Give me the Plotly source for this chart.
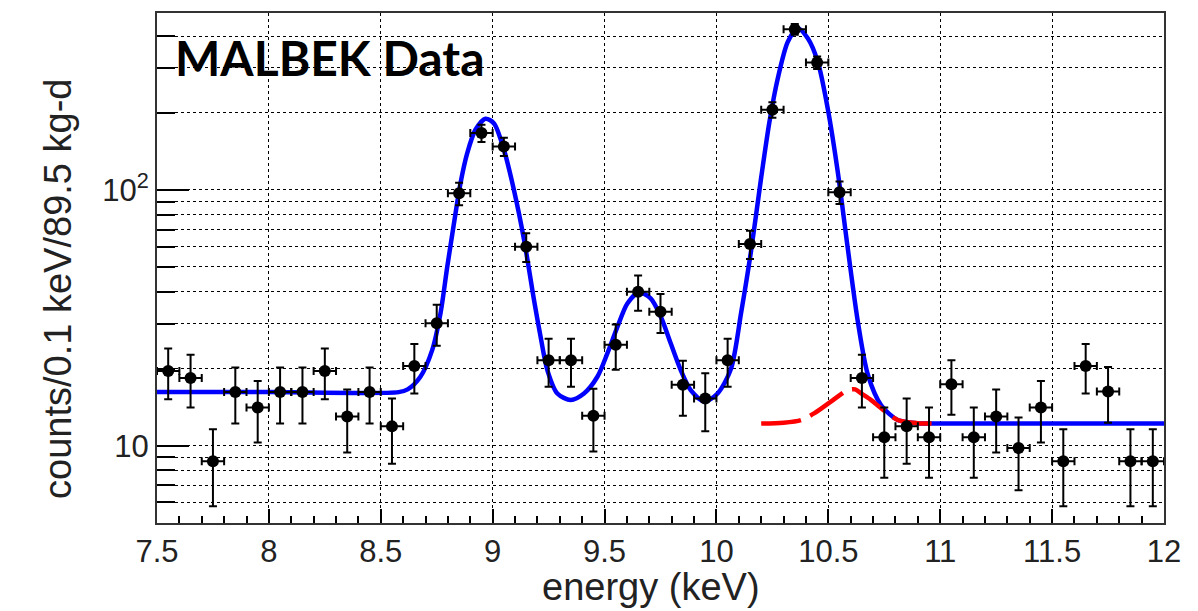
import plotly.graph_objects as go

# ---- data ----
energy = [7.55, 7.65, 7.75, 7.85, 7.95, 8.05, 8.15, 8.25, 8.35, 8.45,
          8.55, 8.65, 8.75, 8.85, 8.95, 9.05, 9.15, 9.25, 9.35, 9.45,
          9.55, 9.65, 9.75, 9.85, 9.95, 10.05, 10.15, 10.25, 10.35, 10.45,
          10.55, 10.65, 10.75, 10.85, 10.95, 11.05, 11.15, 11.25, 11.35, 11.45,
          11.55, 11.65, 11.75, 11.85, 11.95]
counts = [19.6, 18.4, 8.7, 16.2, 14.1, 16.2, 16.2, 19.6, 13.0, 16.2,
          11.9, 20.5, 30.1, 97, 167, 148, 60, 21.6, 21.6, 13.1,
          24.8, 40, 33.4, 17.3, 15.3, 21.6, 61.5, 206, 425, 315,
          98, 18.4, 10.8, 11.9, 10.8, 17.4, 10.8, 13.0, 9.8, 14.1,
          8.7, 20.5, 16.3, 8.7, 8.7]
count_err = [4.4, 4.3, 2.9, 4.0, 3.8, 4.0, 4.0, 4.4, 3.6, 4.0,
             3.4, 4.5, 5.5, 9.8, 12.9, 12.2, 7.7, 4.6, 4.6, 3.6,
             5.0, 6.3, 5.8, 4.2, 3.9, 4.6, 7.8, 14.4, 20.6, 17.7,
             9.9, 4.3, 3.3, 3.4, 3.3, 4.2, 3.3, 3.6, 3.1, 3.8,
             2.9, 4.5, 4.0, 2.9, 2.9]
bin_half_width = 0.05

fit_x = [7.5, 8.0, 8.58, 8.62, 8.677, 8.73, 8.767, 8.797, 8.827, 8.856,
         8.886, 8.923, 8.968, 9.006, 9.051, 9.095, 9.14, 9.185, 9.214, 9.244,
         9.289, 9.349, 9.408, 9.468, 9.513, 9.558, 9.602, 9.654, 9.706, 9.751,
         9.796, 9.84, 9.885, 9.945, 10.005, 10.065, 10.11, 10.155, 10.2, 10.237,
         10.274, 10.319, 10.363, 10.408, 10.453, 10.497, 10.542, 10.587, 10.632, 10.677,
         10.736, 10.81, 10.9, 11.0, 12.0]
fit_y = [16.2, 16.2, 16.2, 16.6, 18.6, 23.7, 33, 50, 74, 106,
         139, 172, 190, 182, 143, 100, 64, 37, 26.7, 19.8,
         16.0, 15.1, 16.0, 18.6, 23, 29.2, 36, 39.7, 37.7, 32,
         25.1, 19.8, 16.5, 14.9, 16.0, 20, 33, 58, 112, 185,
         273, 380, 429, 392, 317, 209, 118, 59, 30.5, 18.9,
         14.4, 12.6, 12.25, 12.2, 12.2]

peak_x = [10.2, 10.3, 10.378, 10.438, 10.513, 10.587, 10.62, 10.647, 10.69, 10.736,
          10.81, 10.9, 11.0]
peak_y = [12.2, 12.3, 12.6, 13.4, 14.9, 16.5, 16.6, 16.0, 15.1, 14.0,
          12.6, 12.25, 12.2]

y_major = [10, 100]
y_major_text = ["10", "10<sup>2</sup>"]
y_minor = [6, 7, 8, 9, 20, 30, 40, 50, 60, 70, 80, 90, 200, 300, 400]
x_ticks = [7.5, 8, 8.5, 9, 9.5, 10, 10.5, 11, 11.5, 12]
x_tick_text = ["7.5", "8", "8.5", "9", "9.5", "10", "10.5", "11", "11.5", "12"]

fig = go.Figure()

fig.add_trace(go.Scatter(
    x=fit_x, y=fit_y, mode="lines",
    line=dict(color="#0000ff", width=4.5, shape="spline", smoothing=0.8),
    showlegend=False, hoverinfo="skip"))

fig.add_trace(go.Scatter(
    x=peak_x, y=peak_y, mode="lines",
    line=dict(color="#ff0000", width=4.5, dash="40px,10px", shape="spline", smoothing=0.8),
    showlegend=False, hoverinfo="skip"))

fig.add_trace(go.Scatter(
    x=energy, y=counts, mode="markers",
    marker=dict(color="black", size=12),
    error_y=dict(type="data", array=count_err, color="black", thickness=2, width=4),
    error_x=dict(type="constant", value=bin_half_width, color="black", thickness=2, width=4),
    showlegend=False))

fig.add_annotation(
    text="<b>MALBEK Data</b>", xref="paper", yref="paper",
    x=0.016, y=0.912, xanchor="left", yanchor="middle", showarrow=False,
    font=dict(family="Lato", size=48, color="black"))

axis_font = dict(family="Liberation Sans, Arial, sans-serif", size=31, color="#222222")
title_font = dict(family="Liberation Sans, Arial, sans-serif", size=38, color="#222222")

fig.add_annotation(
    text="energy (keV)", xref="paper", yref="paper",
    x=0.4906, y=-0.1255, xanchor="center", yanchor="middle", showarrow=False,
    font=title_font)

fig.add_annotation(
    text="counts/0.1 keV/89.5 kg-d", xref="paper", yref="paper", textangle=-90,
    x=-0.0983, y=0.459, xanchor="center", yanchor="middle", showarrow=False,
    font=title_font)

fig.update_xaxes(
    range=[7.5, 12], tickmode="array", tickvals=x_ticks, ticktext=x_tick_text,
    ticks="inside", ticklen=14, tickwidth=1.5, tickcolor="black",
    minor=dict(dtick=0.1, ticks="inside", ticklen=7, tickcolor="black", showgrid=False),
    showgrid=True, gridcolor="black", griddash="dot", gridwidth=1,
    showline=True, linecolor="#333333", linewidth=2, mirror=True,
    zeroline=False, tickfont=axis_font)

fig.update_yaxes(
    type="log", range=[0.6977, 2.692], tickmode="array",
    tickvals=y_major, ticktext=y_major_text,
    ticks="inside", ticklen=32, tickwidth=1.5, tickcolor="black",
    minor=dict(tickmode="array", tickvals=y_minor, ticks="inside", ticklen=18,
               tickcolor="black", showgrid=True, gridcolor="black", griddash="dot", gridwidth=1),
    showgrid=True, gridcolor="black", griddash="dot", gridwidth=1,
    showline=True, linecolor="#333333", linewidth=2, mirror=True,
    zeroline=False, tickfont=axis_font)

fig.update_layout(
    width=1198, height=611,
    margin=dict(l=157, r=34, t=13, b=88),
    paper_bgcolor="white", plot_bgcolor="white")

fig.write_html("out.html")
